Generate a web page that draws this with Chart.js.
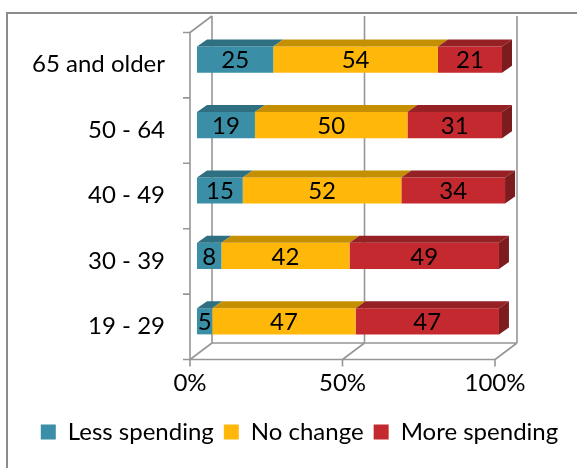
<!DOCTYPE html>
<html>
<head>
<meta charset="utf-8">
<script src="https://cdn.jsdelivr.net/npm/chart.js@4/dist/chart.umd.min.js"></script>
<style>
  html, body { margin: 0; padding: 0; background: #fff; }
  canvas { display: block; }
</style>
</head>
<body>
<canvas id="c" width="577" height="468"></canvas>
<script>
// ---- data ----
const categories = ['65 and older', '50 - 64', '40 - 49', '30 - 39', '19 - 29'];
const lessSpending = [25, 19, 15, 8, 5];
const noChange = [54, 50, 52, 42, 47];
const moreSpending = [21, 31, 34, 49, 47];
const seriesNames = ['Less spending', 'No change', 'More spending'];
const xTickValues = [0, 50, 100];

// ---- styles ----
const FONT = 'Lato';
const frontColors = ['#3A8FA6', '#FFB80A', '#C3292E'];
const topColors = ['#2E6F81', '#C48F00', '#952124'];
const sideColors = ['#2A6373', '#A87A00', '#7C1C1F'];
const GRID = '#969696';
const FRONT = { dx: -7, dy: 5.5 };
const BACK = { dx: 15, dy: -11 };
const DEPTH = { dx: 10, dy: -7 };

function noPad(s) {
  s.paddingTop = 0; s.paddingBottom = 0; s.paddingLeft = 0; s.paddingRight = 0;
}

const threeD = {
  id: 'threeD',
  beforeDraw(chart) {
    const ctx = chart.ctx;
    ctx.save();
    ctx.fillStyle = '#fff';
    ctx.fillRect(0, 0, chart.width, chart.height);
    ctx.strokeStyle = '#8c8c8c';
    ctx.lineWidth = 2;
    ctx.beginPath();
    ctx.moveTo(7, chart.height);
    ctx.lineTo(7, 13);
    ctx.lineTo(chart.width, 13);
    ctx.stroke();
    ctx.restore();
  },
  beforeDatasetsDraw(chart) {
    const ctx = chart.ctx;
    const xs = chart.scales.x;
    const ca = chart.chartArea;
    ctx.save();
    ctx.strokeStyle = GRID;
    ctx.lineWidth = 1.6;
    const x0 = xs.getPixelForValue(0), x1 = xs.getPixelForValue(100);
    const fTop = ca.top + FRONT.dy, fBot = ca.bottom + FRONT.dy;
    const bTop = ca.top + BACK.dy, bBot = ca.bottom + BACK.dy;
    ctx.beginPath();
    xTickValues.forEach(v => {
      const xb = xs.getPixelForValue(v) + BACK.dx;
      ctx.moveTo(xb, bTop); ctx.lineTo(xb, bBot);
      const xf = xs.getPixelForValue(v) + FRONT.dx;
      ctx.moveTo(xf, fBot); ctx.lineTo(xb, bBot);
      ctx.moveTo(xf, fBot); ctx.lineTo(xf, fBot + 7);
    });
    ctx.moveTo(x0 + FRONT.dx, fBot); ctx.lineTo(x1 + FRONT.dx, fBot);
    ctx.moveTo(x0 + BACK.dx, bBot); ctx.lineTo(x1 + BACK.dx, bBot);
    ctx.moveTo(x0 + FRONT.dx, fTop); ctx.lineTo(x0 + FRONT.dx, fBot);
    ctx.moveTo(x0 + FRONT.dx, fTop); ctx.lineTo(x0 + BACK.dx, bTop);
    const n = categories.length;
    for (let i = 0; i <= n; i++) {
      const y = ca.top + (ca.bottom - ca.top) * i / n + FRONT.dy;
      ctx.moveTo(x0 + FRONT.dx - 7, y); ctx.lineTo(x0 + FRONT.dx, y);
    }
    ctx.stroke();
    ctx.restore();
  },
  afterDatasetsDraw(chart) {
    const ctx = chart.ctx;
    ctx.save();
    const nds = chart.data.datasets.length;
    for (let d = 0; d < nds; d++) {
      const meta = chart.getDatasetMeta(d);
      meta.data.forEach((bar) => {
        const p = bar.getProps(['x', 'y', 'base', 'height'], true);
        const left = Math.min(p.x, p.base), right = Math.max(p.x, p.base);
        const top = p.y - p.height / 2, bot = p.y + p.height / 2;
        ctx.fillStyle = topColors[d];
        ctx.beginPath();
        ctx.moveTo(left, top);
        ctx.lineTo(right, top);
        ctx.lineTo(right + DEPTH.dx, top + DEPTH.dy);
        ctx.lineTo(left + DEPTH.dx, top + DEPTH.dy);
        ctx.closePath();
        ctx.fill();
        if (d === nds - 1) {
          ctx.fillStyle = sideColors[d];
          ctx.beginPath();
          ctx.moveTo(right, top);
          ctx.lineTo(right + DEPTH.dx, top + DEPTH.dy);
          ctx.lineTo(right + DEPTH.dx, bot + DEPTH.dy);
          ctx.lineTo(right, bot);
          ctx.closePath();
          ctx.fill();
        }
      });
    }
    ctx.fillStyle = '#000';
    ctx.font = '24px ' + FONT;
    ctx.textAlign = 'center';
    ctx.textBaseline = 'middle';
    for (let d = 0; d < nds; d++) {
      const meta = chart.getDatasetMeta(d);
      const ds = chart.data.datasets[d];
      meta.data.forEach((bar, i) => {
        const p = bar.getProps(['x', 'y', 'base'], true);
        ctx.fillText(String(ds.data[i]), (p.x + p.base) / 2, p.y + 1);
      });
    }
    ctx.restore();
  }
};

new Chart(document.getElementById('c'), {
  type: 'bar',
  data: {
    labels: categories,
    datasets: [
      { label: seriesNames[0], data: lessSpending, backgroundColor: frontColors[0], clip: false },
      { label: seriesNames[1], data: noChange, backgroundColor: frontColors[1], clip: false },
      { label: seriesNames[2], data: moreSpending, backgroundColor: frontColors[2], clip: false }
    ]
  },
  options: {
    indexAxis: 'y',
    responsive: false,
    animation: false,
    devicePixelRatio: 1,
    layout: { padding: { top: 27, left: 22, right: 0, bottom: 14 } },
    datasets: { bar: { barPercentage: 0.4, categoryPercentage: 1, borderWidth: 0 } },
    scales: {
      x: {
        type: 'linear', stacked: true, min: 0, max: 100,
        position: 'bottom',
        afterFit: s => { s.height = 56; noPad(s); },
        afterBuildTicks: s => { s.ticks = xTickValues.map(v => ({ value: v })); },
        grid: { display: false, drawTicks: false },
        border: { display: false },
        ticks: {
          callback: v => v + '%',
          padding: 15, labelOffset: -7, maxRotation: 0,
          color: '#000', font: { family: FONT, size: 24 }
        }
      },
      y: {
        type: 'category', stacked: true,
        afterFit: s => { s.width = 175; noPad(s); },
        grid: { display: false, drawTicks: false },
        border: { display: false },
        ticks: {
          padding: 32, labelOffset: 5,
          color: '#000', font: { family: FONT, size: 24 }
        }
      },
      yr: {
        type: 'linear', position: 'right', display: true,
        afterFit: s => { s.width = 75; noPad(s); },
        grid: { display: false, drawTicks: false },
        border: { display: false },
        ticks: { display: false }
      }
    },
    plugins: {
      legend: {
        position: 'bottom',
        labels: {
          boxWidth: 15, boxHeight: 15, padding: 10,
          color: '#000', font: { family: FONT, size: 24 }
        }
      },
      tooltip: { enabled: false }
    }
  },
  plugins: [threeD]
});
</script>
</body>
</html>
